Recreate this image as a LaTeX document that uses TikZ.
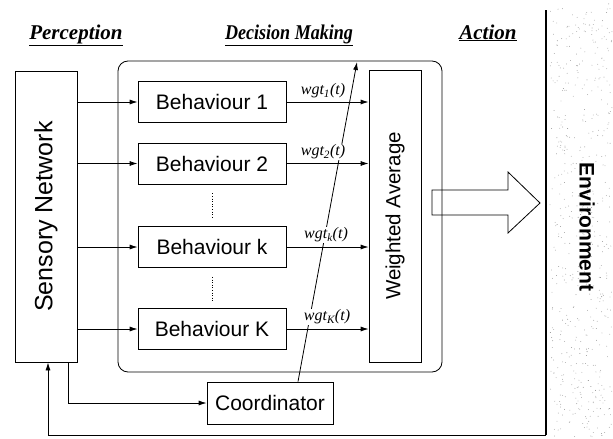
\documentclass[tikz,border=0pt]{standalone}
\usepackage{fontspec}
\setmainfont{Liberation Serif}
\newfontfamily\arial{Liberation Sans}
\usetikzlibrary{arrows.meta,calc}

\tikzset{
  stroke/.style={line width=0.8pt, draw=black},
  blockbox/.style={stroke, rectangle, inner sep=0pt, font=\arial\fontsize{21}{24}\selectfont},
  behbox/.style={blockbox, minimum width=148, minimum height=41},
  flow/.style={stroke, -{Latex[length=8pt,width=5pt]}},
  header/.style={anchor=base, font=\bfseries\itshape\fontsize{21}{24}\selectfont},
  wlabel/.style={fill=white, inner sep=0.6pt, font=\itshape\fontsize{16}{18}\selectfont},
  dots/.style={line width=0.9pt, dash pattern=on 1pt off 1.6pt},
}

\begin{document}
\begin{tikzpicture}[x=1pt, y=-1pt]
\useasboundingbox (0,0) rectangle (613,439);

% environment side: stippled band
\pgfmathsetseed{17}
\foreach \i in {1,...,520} {
  \pgfmathsetmacro{\dx}{550+62*rnd}
  \pgfmathsetmacro{\dy}{3+434*rnd}
  \fill[black!45] (\dx,\dy) circle[radius=0.42pt];
}
\node[rotate=-90, font=\arial\bfseries\fontsize{21}{24}\selectfont] (env) at (587,227) {Environment};

% section titles
\node[header] (hper) at (76,39) {\underline{Perception}};
\node[header] (hdec) at (289,39) {\underline{\scalebox{0.86}[1]{Decision Making}}};
\node[header] (hact) at (488,39) {\underline{Action}};

% decision-making frame
\node[stroke, rectangle, rounded corners=10pt, minimum width=324, minimum height=311, inner sep=0pt] (dm) at (280,216.5) {};

% blocks
\node[blockbox, minimum width=62, minimum height=291] (sens) at (46,216.5) {};
\node[rotate=90, font=\arial\fontsize{25}{28}\selectfont] (senst) at (sens.center) {Sensory Network};

\node[behbox] (b1) at (212,102) {Behaviour 1};
\node[behbox] (b2) at (212,163.5) {Behaviour 2};
\node[behbox] (bk) at (212,247) {Behaviour k};
\node[behbox] (bK) at (212,329) {Behaviour K};

\node[blockbox, minimum width=52, minimum height=292] (wa) at (395,216) {};
\node[rotate=90, font=\arial\fontsize{20.5}{24}\selectfont] (wat) at (wa.center) {Weighted Average};

\node[blockbox, minimum width=126, minimum height=42] (coord) at (270,403) {Coordinator};

% ellipsis between behaviours
\draw[dots] (b2.south) ++(0,9) -- ++(0,25);
\draw[dots] (bk.south) ++(0,9) -- ++(0,25);

% sensory inputs to behaviours, behaviour outputs to the averager
\foreach \b in {b1,b2,bk,bK} {
  \draw[flow] (sens.east |- \b) -- (\b.west);
  \draw[flow] (\b.east) -- (\b.east -| wa.west);
}

% coordinator adjusting the weights
\coordinate (wtop) at (357,62);
\draw[flow] ([xshift=28pt]coord.north) -- (wtop);

% weight labels
\node[wlabel] (l1) at (323,91) {wgt\textsubscript{1}(t)};
\node[wlabel] (l2) at (323,152) {wgt\textsubscript{2}(t)};
\node[wlabel] (lk) at (326,235) {wgt\textsubscript{k}(t)};
\node[wlabel] (lK) at (327,317) {wgt\textsubscript{K}(t)};

% action arrow into the environment
\draw[stroke] (432,190) -- (508,190) -- (508,172) -- (540,203) -- (508,233) -- (508,215) -- (432,215) -- cycle;

% sensory network to coordinator
\draw[flow] ([xshift=22pt]sens.south) |- (coord.west);

% environment boundary and feedback to perception
\coordinate (envtop) at (546,10);
\coordinate (envcorner) at (546,435);
\draw[stroke, line width=1.2pt] (envtop) -- (envcorner);
\draw[flow] (envcorner) -| ([xshift=2pt]sens.south);
\end{tikzpicture}
\end{document}
